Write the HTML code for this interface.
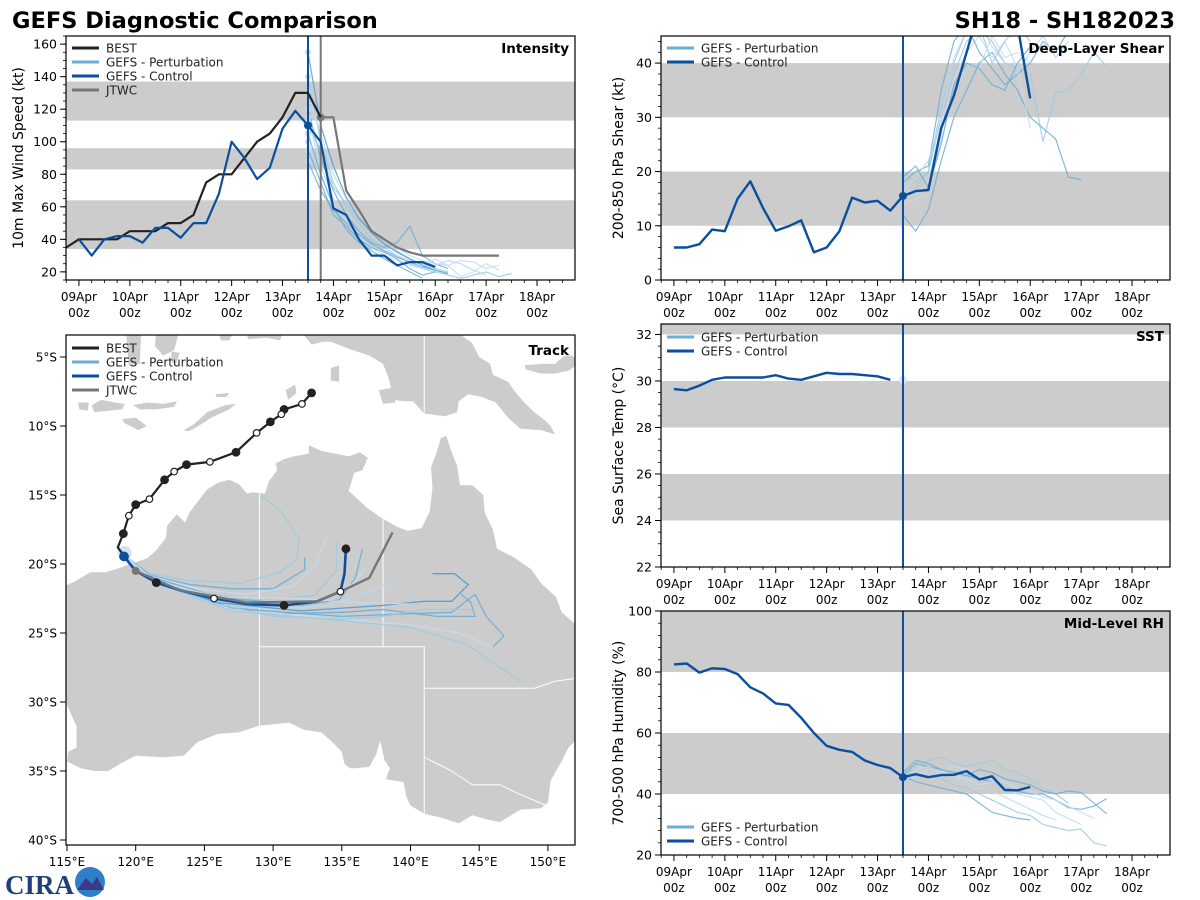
<!DOCTYPE html>
<html><head><meta charset="utf-8"><style>
html,body{margin:0;padding:0;background:#fff;}
svg{display:block;font-family:"DejaVu Sans","Liberation Sans",sans-serif;}
</style></head><body>
<svg id="fig" width="1200" height="900" viewBox="0 0 1200 900" xmlns="http://www.w3.org/2000/svg">
<text x="12" y="28" font-size="22.5" font-weight="bold" fill="#000">GEFS Diagnostic Comparison</text>
<text x="1175" y="28" font-size="22.5" font-weight="bold" fill="#000" text-anchor="end">SH18 - SH182023</text>
<g>
<text x="5" y="894" font-size="27" font-weight="bold" fill="#1f3f7a" font-family="Liberation Serif, serif">CIRA</text>
<circle cx="90" cy="882" r="15" fill="#2f7fc8"/>
<path d="M77 890 L86 878 L92 884 L97 877 L104 890 Z" fill="#3a3a8a"/>
</g>
</svg>
<script>
// ---------- time-series data (hours from 09Apr 00z, 6-hourly) ----------
const dayLabels = ["09Apr","10Apr","11Apr","12Apr","13Apr","14Apr","15Apr","16Apr","17Apr","18Apr"];
const initHour = 108;
const jtwcHour = 114;
const bestIntStart = -6;
const bestInt = [35,40,40,40,40,45,45,45,50,50,55,75,80,80,90,100,105,115,130,130,115];
const ctrlIntStart = 0;
const ctrlInt = [40,30,40,42,42,38,47,47,41,50,50,68,100,90,77,84,108,119,110,100,59,55,40,30,30,24,26,26,23];
const jtwcIntStart = 114;
const jtwcInt = [115,115,70,58,45,40,35,32,30,30,30,30,30,30,30];
const pertIntStart = 108;
const pertInt1 = [140,100,75,60,50,40,35,30,25,22,20,18,16,18,20,17,19];
const pertInt2 = [120,90,70,55,45,38,35,38,48,30,25,22];
const pertInt3 = [100,80,62,50,42,35,30,27,24,22,28,24,27,26,22,24];
const pertInt4 = [110,95,72,62,52,45,38,33,28,25,22,20];
const pertInt5 = [95,75,55,48,40,35,32,28,22,18,20];
const pertInt6 = [130,105,80,65,55,48,40,35,30,27,25,24,17,20,25,21];
const pertInt7 = [115,85,65,52,44,36,33,30,27,26,24,27,25,21,18];
const pertInt8 = [105,80,60,46,38,33,28,24,20,16];
const pertInt9 = [155,110,85,66,53,44,37,32,28,24,21,19];
const pertInt10 = [88,70,58,50,43,37,33,29,26,23,21];

const ctrlShear = [6,6,6.6,9.3,9,15,18.2,13.3,9.1,9.9,11,5.1,6,9,15.2,14.3,14.6,12.8,15.5,16.4,16.6,28,34,42,50,52,50,47,33.5];
const pertShear1 = [20,18,20,30,38,44,46,44,40,39,38,25.5,34.6,35,38,42,39.4];
const pertShear2 = [12,9,13,22,30,35,40,42,38,35,30,28,26,19,18.5];
const pertShear3 = [17,16,18,29,37,42,45,41,44,39,28];
const pertShear4 = [15,17,20,32,40,46,47,40,44,47,44];
const pertShear5 = [18,20,21,35,44,47,42,39,36,38,40,44,42,46,46];
const pertShear6 = [14,15,16,26,34,40,39,45,41,42,40];
const pertShear7 = [16,19,22,30,41,46,48,43,40,38,42,45,41,44];
const pertShear8 = [19,21,17,25,36,40,39,36,35,40,43];

const ctrlSst = [29.65,29.6,29.8,30.05,30.15,30.15,30.15,30.15,30.25,30.1,30.05,30.2,30.35,30.3,30.3,30.25,30.2,30.05];

const ctrlRh = [82.5,82.8,79.8,81.2,81,79.3,75,73,69.7,69.2,65,60,55.8,54.5,53.8,51,49.5,48.5,45.5,46.5,45.5,46.2,46.3,47.5,44.8,45.8,41.3,41.2,42.3];
const pertRh1 = [45,47,46,45,43,42,40,38,36,34,33,30,29,28,28.5,24,23];
const pertRh2 = [46,50,49,48,47,46,45,44,42,41,40,40,38,35.5,35,36,38.5];
const pertRh3 = [44,46,48,47,49,48,46,45,44,42,41,39,38,36,34,32];
const pertRh4 = [45,49,51,52,50,49,50,51,48,47,45,42,40,37];
const pertRh5 = [46,44,43,42,41,40,37,34,33,32,31.5];
const pertRh6 = [44,47,46,47,46,45,43,44,42,40,39,38,34,32,30];
const pertRh7 = [45,48,49,47,46,44,42,41,39,37,35,33,31.5];
const pertRh8 = [47,51,50,48,47,46,48,47,45,44,43,41,40,41,40.5,37,33.5];

// ---------- track data (lon E, lat) ----------
const bestTrackLon = [132.8,132.1,130.8,130.6,129.8,128.8,127.3,125.4,123.7,122.8,122.1,121.0,120.0,119.5,119.1,118.7,119.1];
const bestTrackLat = [-7.6,-8.4,-8.8,-9.15,-9.7,-10.5,-11.9,-12.6,-12.8,-13.3,-13.9,-15.3,-15.7,-16.5,-17.8,-18.8,-19.35];
const bestTrackOpen = [0,1,0,1,0,1,0,1,0,1,0,1,0,1,0,-1,-1];
const ctrlTrackLon = [119.15,120.0,121.5,123.2,125.7,128.1,130.8,133.2,134.9,135.2,135.3];
const ctrlTrackLat = [-19.45,-20.5,-21.35,-21.9,-22.5,-22.9,-23.0,-22.7,-22.0,-20.7,-18.9];
const ctrlTrackMark = [2,-1,0,-1,1,-1,0,-1,1,-1,0];
const jtwcTrackLon = [120.0,123.2,128.1,133.2,134.9,137.0,138.7];
const jtwcTrackLat = [-20.5,-21.9,-22.8,-22.7,-22.0,-21.0,-17.7];
const pertTrackLon = [
 [119.2,121,124,127.6,130.5,131.7,131.9,130.6,129.1],
 [119.2,121,124,127,130,132.3,132.3],
 [119.2,121.2,124.5,128,131.5,133,133.9],
 [119.2,121.3,125,129,133,134.6,134.6],
 [119.2,121.3,126,132,134.8,136,136.5],
 [119.2,121.4,126,131,134,135.8,136.8],
 [119.2,121.5,126,130,134,137,139.7],
 [119.2,121.5,126,130,135,138,141.9,144.7,144.4,143.7],
 [119.2,121.5,126,132,138,141,143,144.2,143.2,141.6],
 [119.2,121.6,127,135,140,143,144.7,145.5,146.8,146.0],
 [119.2,121.7,127,134,140,144,148],
 [119.2,121.7,127,135,140,143.5,146],
 [119.2,121.5,125,130,135,138,141,144.5],
 [119.2,121.4,126,132,136,140]
];
const pertTrackLat = [
 [-19.4,-20.7,-21.2,-21.4,-20.6,-19.7,-18.2,-16.2,-15.0],
 [-19.4,-20.8,-21.5,-21.8,-21.8,-20.4,-19.5],
 [-19.4,-20.9,-21.8,-22.2,-21.6,-20.2,-18.1],
 [-19.4,-21.0,-22.1,-22.6,-22.3,-20.5,-18.3],
 [-19.4,-21.0,-22.4,-23.0,-22.6,-21.0,-18.9],
 [-19.4,-21.1,-22.6,-23.0,-22.5,-21.4,-20.2],
 [-19.4,-21.2,-22.8,-23.3,-23.0,-22.0,-20.7],
 [-19.4,-21.3,-23.0,-23.6,-23.5,-23.3,-23.8,-23.8,-22.8,-22.2],
 [-19.4,-21.2,-22.8,-23.4,-23.0,-22.7,-22.7,-21.5,-20.7,-20.7],
 [-19.4,-21.4,-23.2,-23.8,-23.6,-23.5,-22.2,-23.8,-25.2,-26.0],
 [-19.4,-21.5,-23.4,-24.0,-24.6,-25.8,-28.5],
 [-19.4,-21.5,-23.3,-24.0,-24.4,-25.0,-26.0],
 [-19.4,-21.3,-22.7,-23.8,-24.0,-23.8,-23.3,-23.3],
 [-19.4,-21.2,-22.4,-22.5,-22.8,-22.9]
];
const pertColors = ["#9ecae1","#6baed6","#c6dbef","#9ecae1","#6baed6","#c6dbef","#bcd7ec","#6baed6","#4f9bd0","#6baed6","#9ecae1","#c6dbef","#9ecae1","#c6dbef"];

// ---------- land outlines (lon, lat) ----------
const landAus = [[113.6,-22.0],[114.1,-21.8],[114.6,-21.7],[115.5,-21.3],[116.7,-20.6],[117.8,-20.6],[118.8,-20.3],[119.6,-20.0],[120.8,-19.6],[121.5,-19.0],[122.2,-18.1],[122.3,-17.2],[123.0,-16.4],[123.6,-17.0],[123.9,-16.3],[124.5,-15.5],[125.2,-14.6],[126.0,-14.1],[126.8,-13.9],[127.5,-14.2],[128.1,-14.9],[128.5,-14.8],[129.4,-14.9],[129.7,-14.0],[130.3,-13.2],[130.2,-12.7],[130.8,-12.4],[131.5,-12.2],[132.6,-12.0],[132.6,-11.4],[133.5,-11.8],[134.5,-12.0],[135.5,-12.2],[136.3,-11.9],[136.9,-12.3],[136.5,-13.2],[135.9,-13.4],[135.5,-14.7],[136.8,-15.9],[137.8,-16.6],[139.0,-17.3],[139.8,-17.6],[140.8,-17.4],[141.4,-16.2],[141.6,-14.5],[141.5,-13.0],[141.9,-11.9],[142.2,-10.9],[142.6,-10.7],[143.0,-11.9],[143.4,-12.9],[143.6,-14.3],[144.5,-14.3],[145.3,-15.0],[145.4,-16.3],[146.0,-17.5],[146.3,-18.9],[147.5,-19.5],[148.8,-20.4],[149.5,-21.4],[150.6,-22.4],[151.0,-23.5],[152.5,-24.8],[153.1,-25.8],[153.3,-27.0],[153.6,-28.5],[153.1,-30.5],[152.6,-32.2],[151.5,-33.3],[151.0,-34.3],[150.2,-35.7],[150.0,-37.3],[149.5,-37.7],[148.0,-37.8],[146.5,-38.7],[145.5,-38.5],[144.5,-38.2],[143.5,-38.8],[142.3,-38.4],[141.0,-38.1],[140.0,-37.5],[139.7,-36.9],[139.5,-35.8],[138.2,-35.6],[138.5,-34.8],[138.1,-34.2],[137.8,-32.8],[137.5,-33.8],[137.0,-34.7],[136.0,-34.8],[135.6,-34.8],[135.2,-34.5],[135.0,-33.6],[134.2,-32.8],[133.5,-32.2],[132.2,-32.0],[131.2,-31.5],[129.0,-31.7],[127.5,-32.2],[126.0,-32.3],[124.5,-32.9],[123.5,-33.9],[122.0,-34.0],[120.0,-33.9],[119.0,-34.4],[118.0,-35.0],[117.0,-35.0],[116.0,-34.8],[115.0,-34.3],[115.1,-33.6],[115.7,-33.3],[115.7,-31.8],[115.0,-30.2],[114.9,-29.0],[114.2,-28.0],[113.5,-26.6],[113.8,-26.0],[113.4,-25.0],[113.6,-24.0],[113.8,-23.0]];
const landNG = [[131.9,-3.0],[132.8,-4.1],[133.6,-3.9],[134.2,-3.9],[135.5,-4.4],[137,-4.9],[138,-5.5],[138.4,-6.5],[138.8,-8.1],[139.5,-8.2],[140.2,-8.2],[141.0,-9.1],[142.5,-9.3],[143.4,-9.0],[143.5,-8.2],[144.2,-7.7],[145.2,-7.9],[146.2,-8.3],[147.1,-9.4],[148.0,-10.2],[149.5,-10.3],[150.5,-10.6],[150.2,-10.0],[149.8,-9.6],[149.0,-9.0],[148.2,-8.2],[147.6,-7.5],[147.1,-6.8],[146.0,-6.3],[145.8,-5.5],[145.0,-5.0],[144.5,-4.0],[143.8,-3.5],[143.5,-3.0]];
const landIslands = [
 [[148.3,-5.6],[149.5,-5.5],[150.5,-5.5],[151.2,-4.9],[151.8,-4.9],[152.2,-5.5],[151.5,-6.0],[150.5,-6.2],[149.5,-6.2],[148.4,-5.9]],
 [[123.5,-10.3],[124.2,-9.9],[125.2,-9.0],[126.5,-8.5],[127.3,-8.4],[126.8,-8.8],[125.5,-9.4],[124.4,-10.1],[123.8,-10.4]],
 [[119.8,-8.5],[120.8,-8.3],[122.0,-8.4],[123.0,-8.2],[122.8,-8.6],[121.5,-8.8],[120.3,-8.8]],
 [[116.8,-8.5],[117.5,-8.1],[118.5,-8.3],[119.2,-8.4],[119.0,-8.8],[118.0,-8.9],[117.0,-9.0]],
 [[115.8,-8.3],[116.6,-8.3],[116.5,-8.9],[115.9,-8.8]],
 [[119.0,-9.5],[120.0,-9.4],[120.8,-10.0],[120.2,-10.3],[119.2,-9.8]],
 [[125.8,-7.7],[126.8,-7.6],[126.6,-7.9],[125.9,-7.9]],
 [[130.9,-7.4],[131.6,-7.0],[131.7,-7.6],[131.1,-8.1]],
 [[134.2,-5.8],[134.8,-5.6],[134.8,-6.8],[134.2,-6.7]],
 [[137.7,-7.4],[138.8,-7.2],[138.9,-8.3],[138.0,-8.4]],
 [[126.0,-3.1],[127.2,-3.1],[126.8,-3.8],[126.2,-3.8]],
 [[127.9,-3.0],[130.8,-3.0],[130.5,-3.8],[129.5,-3.6],[128.2,-3.7]],
 [[121.5,-3.0],[123.2,-3.0],[122.8,-4.5],[122.0,-4.9],[121.4,-4.2]],
 [[119.3,-3.0],[120.4,-3.0],[120.3,-5.5],[119.5,-5.6],[119.4,-4.5]],
 [[122.6,-4.6],[123.2,-4.7],[122.9,-5.6],[122.6,-5.3]]
];
const stateBorders = [
 [[129,-14.9],[129,-31.7]],[[129,-26],[138,-26]],[[138,-16.5],[138,-26]],[[138,-26],[141,-26],[141,-29]],
 [[141,-29],[149,-29],[150.5,-28.5],[152,-28.3],[153.5,-28.2]],[[141,-29],[141,-38.1]],
 [[141,-34],[143,-35],[144.5,-36],[146.5,-36],[148.2,-36.8],[149.9,-37.5]],[[141,-9.1],[141,-3]]
];

// ---------- helpers ----------
const svg = document.getElementById('fig');
const NS = 'http://www.w3.org/2000/svg';
function mk(tag, attrs, parent){ const e = document.createElementNS(NS, tag); for (const k in attrs) e.setAttribute(k, attrs[k]); (parent||svg).appendChild(e); return e; }
const HDOM = [-6.1, 233.9];
function xS(p, h){ return p.x0 + (h - HDOM[0]) / (HDOM[1]-HDOM[0]) * (p.x1 - p.x0); }
function yS(p, v){ return p.y1 - (v - p.lo) / (p.hi - p.lo) * (p.y1 - p.y0); }
const C_CTRL = '#0a4f9e', C_BEST = '#222222', C_JTWC = '#777777', C_PERT = '#6baed6';
let clipId = 0;

function seriesPath(p, start, vals){
  return vals.map((v,i)=> (i?'L':'M') + xS(p, start + 6*i).toFixed(1) + ' ' + yS(p, v).toFixed(1)).join(' ');
}

function timePanel(p){
  const g = mk('g', {});
  
  
  const id = 'clip' + (clipId++);
  const cp = mk('clipPath', {id: id}, g);
  mk('rect', {x:p.x0, y:p.y0, width:p.x1-p.x0, height:p.y1-p.y0}, cp);
  const plot = mk('g', {'clip-path':'url(#'+id+')'}, g);
  p.bands.forEach(b=>{
    const r = mk('rect', {x:p.x0, y:yS(p,b[1]), width:p.x1-p.x0, height:yS(p,b[0])-yS(p,b[1]), fill:'#cccccc'}, plot);
    
    
  });
  p.plot = plot;
  for (let v = p.minorStart; v <= p.hi + 1e-6; v += p.minor){
    if (v < p.lo - 1e-6) continue;
    mk('line', {x1:p.x0-3, x2:p.x0, y1:yS(p,v), y2:yS(p,v), stroke:'#000', 'stroke-width':0.8}, g);
  }
  p.ticks.forEach(v=>{
    const y = yS(p,v);
    mk('line', {x1:p.x0-6, x2:p.x0, y1:y, y2:y, stroke:'#000', 'stroke-width':1}, g);
    const t = mk('text', {x:p.x0-9, y:y+4.5, 'font-size':12.5, 'text-anchor':'end', fill:'#000'}, g);
    t.textContent = String(v);
    
    
  });
  for (let h = -6; h <= HDOM[1]; h += 6){
    const x = xS(p,h);
    const major = (h % 24 === 0);
    mk('line', {x1:x, x2:x, y1:p.y1, y2:p.y1 + (major?6:3), stroke:'#000', 'stroke-width': major?1:0.8}, g);
  }
  dayLabels.forEach((d,i)=>{
    const x = xS(p, 24*i);
    const t1 = mk('text', {x:x, y:p.y1+21, 'font-size':12, 'text-anchor':'middle', fill:'#000'}, g);
    t1.textContent = d;
    
    
    const t2 = mk('text', {x:x, y:p.y1+37, 'font-size':12, 'text-anchor':'middle', fill:'#000'}, g);
    t2.textContent = '00z';
    
    
  });
  const cy = (p.y0 + p.y1)/2;
  const yt = mk('text', {x:p.ytx, y:cy, 'font-size':14, 'text-anchor':'middle', transform:'rotate(-90 '+p.ytx+' '+cy+')', fill:'#000'}, g);
  yt.textContent = p.ytitle;
  
  
  const pt = mk('text', {x:p.x1-6, y:p.y0+17, 'font-size':13.5, 'font-weight':'bold', 'text-anchor':'end', fill:'#000'}, g);
  pt.textContent = p.title;
  
  
  p.g = g;
  return p;
}
function frame(p){
  const f = mk('rect', {x:p.x0, y:p.y0, width:p.x1-p.x0, height:p.y1-p.y0, fill:'none', stroke:'#000', 'stroke-width':1.2}, p.g);
  
  
}
function addLine(p, start, vals, color, w, name, op){
  const e = mk('path', {d:seriesPath(p,start,vals), fill:'none', stroke:color, 'stroke-width':w, 'stroke-linejoin':'round', opacity: op==null?1:op}, p.plot);
  
  
  return e;
}
function vline(p, h, color, w, name){
  const e = mk('line', {x1:xS(p,h), x2:xS(p,h), y1:p.y0, y2:p.y1, stroke:color, 'stroke-width':w}, p.plot);
  
  
}
function dot(p, h, v, color, r, name){
  const e = mk('circle', {cx:xS(p,h), cy:yS(p,v), r:r, fill:color}, p.plot);
  
  
}
function legend(parent, x, y, entries){
  const g = mk('g', {}, parent);
  
  
  entries.forEach((en,i)=>{
    const yy = y + i*14;
    const l = mk('line', {x1:x, x2:x+27, y1:yy, y2:yy, stroke:en[1], 'stroke-width':3}, g);
    
    
    const t = mk('text', {x:x+34, y:yy+4.3, 'font-size':12, fill:'#222'}, g);
    t.textContent = en[0];
    
    
  });
}

// ---------- Intensity ----------
const pI = timePanel({name:'intensity', x0:66, x1:575, y0:36, y1:280, lo:15, hi:165, bands:[[34,64],[83,96],[113,137]], ticks:[20,40,60,80,100,120,140,160], minor:5, minorStart:15, ytitle:'10m Max Wind Speed (kt)', ytx:23, title:'Intensity'});
[pertInt1,pertInt2,pertInt3,pertInt4,pertInt5,pertInt6,pertInt7,pertInt8,pertInt9,pertInt10].forEach((a,i)=>{
  addLine(pI, pertIntStart, a, pertColors[i], 1.2, 'perturbation-intensity-line', 0.85);
  dot(pI, pertIntStart, a[0], '#c6dbef', 3, 'perturbation-init-dot');
});
vline(pI, initHour, C_CTRL, 2, 'init-time-line');
vline(pI, jtwcHour, C_JTWC, 2, 'jtwc-time-line');
addLine(pI, jtwcIntStart, jtwcInt, C_JTWC, 2.2, 'jtwc-intensity-line');
dot(pI, jtwcIntStart, jtwcInt[0], C_JTWC, 4, 'jtwc-init-dot');
addLine(pI, bestIntStart, bestInt, C_BEST, 2.2, 'best-intensity-line');
addLine(pI, ctrlIntStart, ctrlInt, C_CTRL, 2.2, 'control-intensity-line');
dot(pI, initHour, ctrlInt[initHour/6], C_CTRL, 4, 'control-init-dot');
legend(pI.g, 72, 48, [['BEST',C_BEST],['GEFS - Perturbation',C_PERT],['GEFS - Control',C_CTRL],['JTWC',C_JTWC]]);
frame(pI);

// ---------- Shear ----------
const pS = timePanel({name:'shear', x0:661, x1:1170, y0:36, y1:280, lo:0, hi:45, bands:[[10,20],[30,40]], ticks:[0,10,20,30,40], minor:2, minorStart:0, ytitle:'200-850 hPa Shear (kt)', ytx:623, title:'Deep-Layer Shear'});
[pertShear1,pertShear2,pertShear3,pertShear4,pertShear5,pertShear6,pertShear7,pertShear8].forEach((a,i)=>{
  addLine(pS, initHour, a, pertColors[i], 1.2, 'perturbation-shear-line', 0.85);
});
vline(pS, initHour, C_CTRL, 2, 'init-time-line');
addLine(pS, 0, ctrlShear, C_CTRL, 2.4, 'control-shear-line');
dot(pS, initHour, ctrlShear[initHour/6], C_CTRL, 4, 'control-init-dot');
legend(pS.g, 667, 48, [['GEFS - Perturbation',C_PERT],['GEFS - Control',C_CTRL]]);
frame(pS);

// ---------- SST ----------
const pT = timePanel({name:'sst', x0:661, x1:1170, y0:324, y1:567, lo:22, hi:32.45, bands:[[24,26],[28,30],[32,33]], ticks:[22,24,26,28,30,32], minor:0.5, minorStart:22, ytitle:'Sea Surface Temp (°C)', ytx:623, title:'SST'});
dot(pT, initHour, 30.05, '#dbe9f6', 4, 'perturbation-init-dot');
vline(pT, initHour, C_CTRL, 2, 'init-time-line');
addLine(pT, 0, ctrlSst, C_CTRL, 2.4, 'control-sst-line');
legend(pT.g, 667, 337, [['GEFS - Perturbation',C_PERT],['GEFS - Control',C_CTRL]]);
frame(pT);

// ---------- RH ----------
const pR = timePanel({name:'rh', x0:661, x1:1170, y0:611, y1:855, lo:20, hi:100, bands:[[40,60],[80,100]], ticks:[20,40,60,80,100], minor:4, minorStart:20, ytitle:'700-500 hPa Humidity (%)', ytx:623, title:'Mid-Level RH'});
[pertRh1,pertRh2,pertRh3,pertRh4,pertRh5,pertRh6,pertRh7,pertRh8].forEach((a,i)=>{
  addLine(pR, initHour, a, pertColors[i], 1.2, 'perturbation-rh-line', 0.85);
});
vline(pR, initHour, C_CTRL, 2, 'init-time-line');
addLine(pR, 0, ctrlRh, C_CTRL, 2.4, 'control-rh-line');
dot(pR, initHour, ctrlRh[initHour/6], C_CTRL, 4, 'control-init-dot');
legend(pR.g, 667, 827, [['GEFS - Perturbation',C_PERT],['GEFS - Control',C_CTRL]]);
frame(pR);

// ---------- Track map ----------
const M = {x0:66, x1:575, y0:335, y1:845};
function lonX(l){ return 67 + (l - 115) * 13.74; }
function latY(l){ return 357 + (-l - 5) * 13.8; }
function polyPath(pts, close){ return pts.map((q,i)=>(i?'L':'M')+lonX(q[0]).toFixed(1)+' '+latY(q[1]).toFixed(1)).join(' ') + (close?' Z':''); }
const mg = mk('g', {});


const mcp = mk('clipPath', {id:'mapclip'}, mg);
mk('rect', {x:M.x0, y:M.y0, width:M.x1-M.x0, height:M.y1-M.y0}, mcp);
const mp = mk('g', {'clip-path':'url(#mapclip)'}, mg);
const aus = mk('path', {d:polyPath(landAus,true), fill:'#cccccc'}, mp);


const ng = mk('path', {d:polyPath(landNG,true), fill:'#cccccc'}, mp);


landIslands.forEach(isl=>{
  const e = mk('path', {d:polyPath(isl,true), fill:'#cccccc'}, mp);
  
  
});
stateBorders.forEach(b=>{
  const e = mk('path', {d:polyPath(b,false), fill:'none', stroke:'#fff', 'stroke-width':1}, mp);
  
  
});
pertTrackLon.forEach((lons,i)=>{
  const pts = lons.map((l,j)=>[l, pertTrackLat[i][j]]);
  const e = mk('path', {d:polyPath(pts,false), fill:'none', stroke:pertColors[i], 'stroke-width':1.3, opacity:0.9}, mp);
  
  
});
const initHalo = mk('circle', {cx:lonX(119.2), cy:latY(-19.2), r:7, fill:'#c6dbef', opacity:0.8}, mp);


const bt = mk('path', {d:polyPath(bestTrackLon.map((l,i)=>[l,bestTrackLat[i]]),false), fill:'none', stroke:C_BEST, 'stroke-width':2.2}, mp);


const ct = mk('path', {d:polyPath(ctrlTrackLon.map((l,i)=>[l,ctrlTrackLat[i]]),false), fill:'none', stroke:C_CTRL, 'stroke-width':2.6}, mp);


const jt = mk('path', {d:polyPath(jtwcTrackLon.map((l,i)=>[l,jtwcTrackLat[i]]),false), fill:'none', stroke:C_JTWC, 'stroke-width':2.4}, mp);


const jd = mk('circle', {cx:lonX(jtwcTrackLon[0]), cy:latY(jtwcTrackLat[0]), r:4, fill:C_JTWC}, mp);


bestTrackLon.forEach((l,i)=>{
  if (bestTrackOpen[i] < 0) return;
  const open = bestTrackOpen[i] === 1;
  const e = mk('circle', {cx:lonX(l), cy:latY(bestTrackLat[i]), r: open?3.3:3.8, fill: open?'#fff':C_BEST, stroke:C_BEST, 'stroke-width':1.2}, mp);
  
  
});
ctrlTrackLon.forEach((l,i)=>{
  const m = ctrlTrackMark[i];
  if (m < 0) return;
  const e = mk('circle', {cx:lonX(l), cy:latY(ctrlTrackLat[i]), r: m===2?4.3:(m===1?3.3:3.8), fill: m===2?C_CTRL:(m===1?'#fff':C_BEST), stroke: m===2?C_CTRL:C_BEST, 'stroke-width':1.2}, mp);
  
  
});
for (let la = 5; la <= 40; la += 5){
  const y = latY(-la);
  mk('line', {x1:M.x0-6, x2:M.x0, y1:y, y2:y, stroke:'#000', 'stroke-width':1}, mg);
  const t = mk('text', {x:M.x0-9, y:y+4.5, 'font-size':12, 'text-anchor':'end', fill:'#000'}, mg);
  t.textContent = la + '°S';
  
  
}
for (let lo = 115; lo <= 150; lo += 5){
  const x = lonX(lo);
  mk('line', {x1:x, x2:x, y1:M.y1, y2:M.y1+6, stroke:'#000', 'stroke-width':1}, mg);
  const t = mk('text', {x:x, y:M.y1+21, 'font-size':12, 'text-anchor':'middle', fill:'#000'}, mg);
  t.textContent = lo + '°E';
  
  
}
const mt = mk('text', {x:M.x1-6, y:M.y0+20, 'font-size':13.5, 'font-weight':'bold', 'text-anchor':'end', fill:'#000'}, mg);
mt.textContent = 'Track';


legend(mg, 72, 348, [['BEST',C_BEST],['GEFS - Perturbation',C_PERT],['GEFS - Control',C_CTRL],['JTWC',C_JTWC]]);
const mf = mk('rect', {x:M.x0, y:M.y0, width:M.x1-M.x0, height:M.y1-M.y0, fill:'none', stroke:'#000', 'stroke-width':1.2}, mg);


</script>
</body></html>
